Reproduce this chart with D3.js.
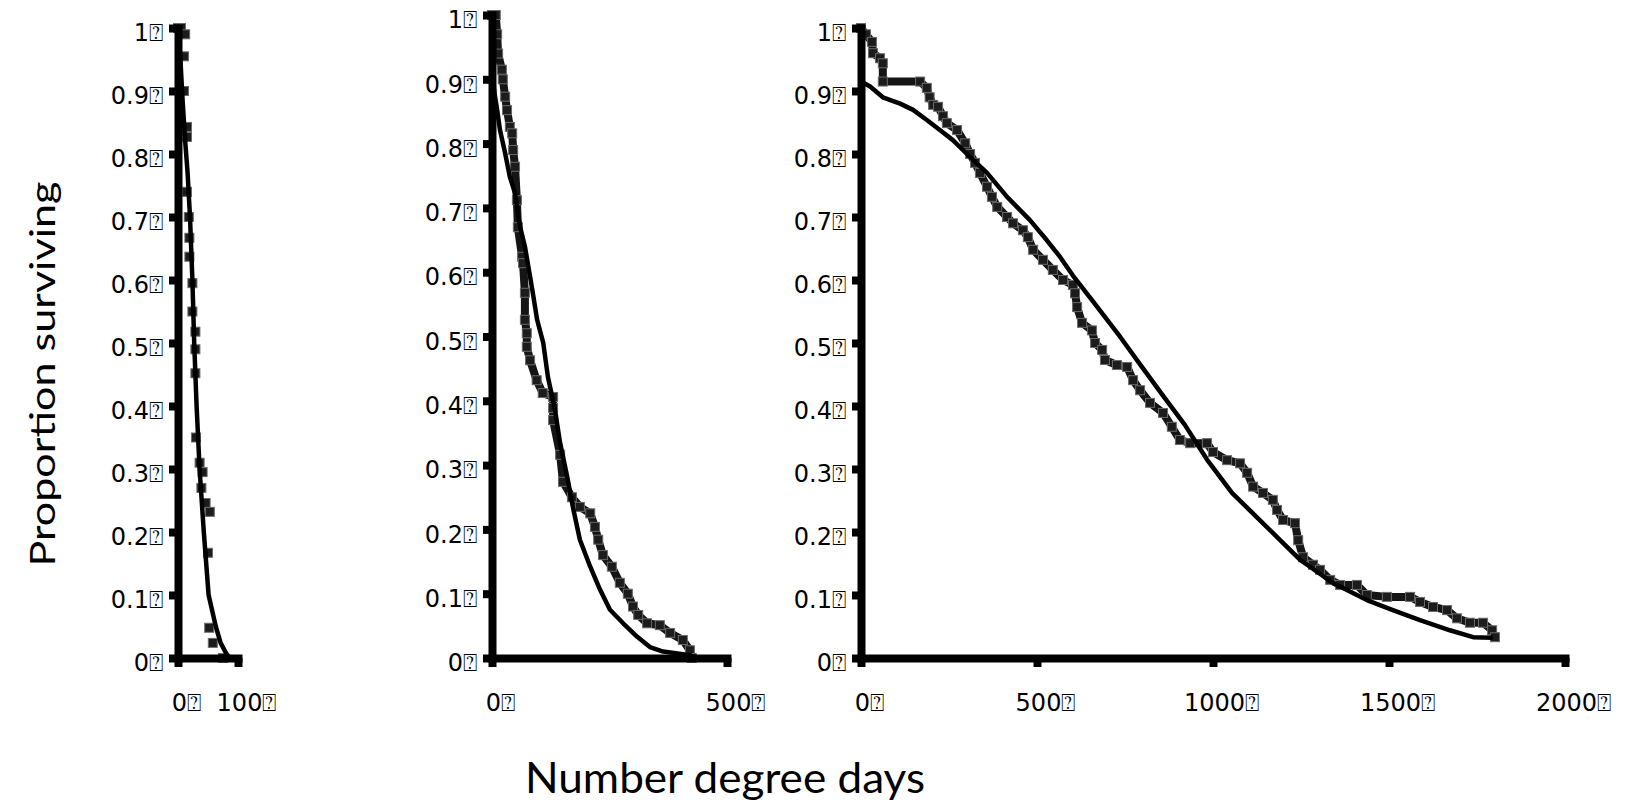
<!DOCTYPE html>
<html>
<head>
<meta charset="utf-8">
<script src="https://cdnjs.cloudflare.com/ajax/libs/d3/7.8.5/d3.min.js"></script>
<style>
    body { margin: 0; background: #fff; }
</style>
</head>
<body>
<svg id="chart"></svg>
<script>
    var w = 1628;
    var h = 805;
    var BOX = "\u2370";   // the boxed "?" that follows every tick label in the original

    // tick labels
    var yTicks = [0, 0.1, 0.2, 0.3, 0.4, 0.5, 0.6, 0.7, 0.8, 0.9, 1];
    var xTicks1 = [0, 100];
    var xTicks2 = [0, 500];
    var xTicks3 = [0, 500, 1000, 1500, 2000];

    // panel 1: observed [degree days, proportion] and fitted curve
    var obs1 = [[0, 1.0], [5, 1.0], [12, 0.99], [10, 0.955], [10, 0.90], [15, 0.843], [15, 0.827],
        [15, 0.74], [18, 0.70], [19, 0.667], [19, 0.637], [24, 0.595], [24, 0.55], [29, 0.518],
        [29, 0.49], [29, 0.452], [30, 0.35], [36, 0.31], [41, 0.295], [39, 0.27], [46, 0.246],
        [53, 0.232], [50, 0.167], [52, 0.048], [58, 0.024], [75, 0.0]];
    var fit1 = [[0, 1.0], [4, 0.95], [8, 0.88], [12, 0.82], [16, 0.77], [20, 0.70], [22, 0.65],
        [24, 0.6], [27, 0.5], [31, 0.4], [36, 0.3], [43, 0.2], [51, 0.1], [63, 0.05],
        [71, 0.024], [80, 0.008], [86, 0]];

    // panel 2
    var obs2 = [[0, 1.0], [8, 1.0], [11, 0.97], [13, 0.94], [21, 0.915], [23, 0.9], [28, 0.873],
        [32, 0.852], [38, 0.826], [43, 0.816], [45, 0.79], [49, 0.764], [53, 0.712], [55, 0.67],
        [64, 0.624], [66, 0.614], [70, 0.568], [70, 0.526], [74, 0.505], [74, 0.484], [81, 0.463],
        [95, 0.432], [108, 0.412], [130, 0.406], [130, 0.389], [130, 0.37], [145, 0.316],
        [151, 0.274], [170, 0.25], [187, 0.235], [209, 0.225], [219, 0.204], [226, 0.184],
        [236, 0.16], [255, 0.142], [272, 0.117], [289, 0.10], [300, 0.08], [311, 0.067],
        [330, 0.054], [357, 0.051], [379, 0.039], [406, 0.028], [421, 0.012], [425, 0.0]];
    var fit2 = [[0, 0.92], [5, 0.88], [11, 0.852], [17, 0.821], [28, 0.785], [38, 0.748],
        [49, 0.723], [60, 0.67], [70, 0.64], [81, 0.593], [87, 0.567], [96, 0.526], [109, 0.49],
        [119, 0.437], [134, 0.386], [145, 0.334], [160, 0.282], [172, 0.235], [187, 0.184],
        [209, 0.142], [230, 0.106], [251, 0.075], [279, 0.054], [309, 0.033], [336, 0.017],
        [364, 0.01], [406, 0.006], [425, 0.004]];

    // panel 3
    var obs3 = [[0, 1.0], [14, 0.99], [31, 0.978], [34, 0.96], [54, 0.952], [62, 0.944],
        [62, 0.915], [168, 0.915], [187, 0.905], [195, 0.89], [205, 0.878], [219, 0.875],
        [233, 0.86], [244, 0.849], [273, 0.838], [296, 0.817], [310, 0.80], [324, 0.786],
        [338, 0.77], [358, 0.748], [372, 0.732], [387, 0.716], [415, 0.70], [432, 0.69],
        [460, 0.679], [474, 0.668], [489, 0.648], [517, 0.632], [545, 0.616], [574, 0.60],
        [602, 0.592], [608, 0.579], [614, 0.557], [628, 0.532], [656, 0.52], [665, 0.50],
        [685, 0.489], [693, 0.473], [727, 0.465], [756, 0.462], [773, 0.441], [793, 0.425],
        [821, 0.405], [858, 0.389], [883, 0.367], [906, 0.346], [935, 0.341], [983, 0.341],
        [1000, 0.327], [1040, 0.314], [1077, 0.309], [1097, 0.294], [1114, 0.272], [1142, 0.262],
        [1170, 0.251], [1182, 0.235], [1199, 0.219], [1233, 0.214], [1242, 0.187], [1256, 0.16],
        [1284, 0.148], [1304, 0.14], [1333, 0.124], [1361, 0.116], [1409, 0.116], [1437, 0.10],
        [1494, 0.097], [1560, 0.097], [1588, 0.089], [1625, 0.081], [1665, 0.076], [1693, 0.063],
        [1730, 0.056], [1767, 0.056], [1793, 0.044], [1801, 0.033]];
    var fit3 = [[0, 0.915], [26, 0.907], [62, 0.89], [111, 0.88], [148, 0.87], [187, 0.854],
        [224, 0.838], [261, 0.822], [301, 0.80], [358, 0.77], [415, 0.732], [480, 0.695],
        [528, 0.663], [565, 0.637], [602, 0.607], [659, 0.566], [736, 0.51], [798, 0.462],
        [860, 0.415], [920, 0.37], [983, 0.315], [1054, 0.262], [1182, 0.192], [1247, 0.156],
        [1341, 0.119], [1437, 0.092], [1511, 0.076], [1588, 0.06], [1673, 0.044], [1739, 0.033],
        [1795, 0.032]];

    var panels = [
        { obs: obs1, fit: fit1, xMax: 100, xTicks: xTicks1, left: 178, right: 238, top: 28, band: false },
        { obs: obs2, fit: fit2, xMax: 500, xTicks: xTicks2, left: 492, right: 727, top: 15, band: true },
        { obs: obs3, fit: fit3, xMax: 2000, xTicks: xTicks3, left: 861, right: 1565, top: 28, band: true }
    ];
    var bottom = 658;

    var svg = d3.select("#chart")
        .attr("width", w)
        .attr("height", h)
        .style("background", "#fff");

    var fmt = d3.format("~g");

    panels.forEach(function (p) {
        var x = d3.scaleLinear().domain([0, p.xMax]).range([p.left, p.right]);
        var y = d3.scaleLinear().domain([0, 1]).range([bottom, p.top]);
        var g = svg.append("g");

        var line = d3.line()
            .x(function (d) { return x(d[0]); })
            .y(function (d) { return y(d[1]); });

        // observed: dense square markers, joined into a band where they overlap
        if (p.band) {
            g.append("path")
                .attr("d", line(p.obs))
                .attr("fill", "none")
                .attr("stroke", "#151515")
                .attr("stroke-width", 8)
                .attr("stroke-linejoin", "round");
        }
        g.selectAll("rect.obs")
            .data(p.obs)
            .enter()
            .append("rect")
            .attr("class", "obs")
            .attr("x", function (d) { return x(d[0]) - 4.5; })
            .attr("y", function (d) { return y(d[1]) - 4.5; })
            .attr("width", 9)
            .attr("height", 9)
            .attr("fill", "#1c1c1c")
            .attr("stroke", "#6a6a6a")
            .attr("stroke-width", 1);

        // fitted curve
        g.append("path")
            .attr("d", line(p.fit))
            .attr("fill", "none")
            .attr("stroke", "#000")
            .attr("stroke-width", 4.5)
            .attr("stroke-linejoin", "round");

        // y axis
        var ya = g.append("g")
            .attr("transform", "translate(" + p.left + ",0)")
            .call(d3.axisLeft(y)
                .tickValues(yTicks)
                .tickSize(9)
                .tickSizeOuter(0)
                .tickPadding(6)
                .tickFormat(function (d) { return fmt(d) + BOX; }));

        // x axis
        var xa = g.append("g")
            .attr("transform", "translate(0," + bottom + ")")
            .call(d3.axisBottom(x)
                .tickValues(p.xTicks)
                .tickSize(9)
                .tickSizeOuter(0)
                .tickPadding(27)
                .tickFormat(function (d) { return fmt(d) + BOX; }));

        [ya, xa].forEach(function (a) {
            a.select(".domain")
                .attr("stroke", "#000")
                .attr("stroke-width", 8)
                .attr("stroke-linecap", "square");
            a.selectAll(".tick line")
                .attr("stroke", "#000")
                .attr("stroke-width", 8);
            a.selectAll(".tick text")
                .attr("fill", "#000")
                .attr("font-family", "DejaVu Sans")
                .attr("font-size", "24px");
        });
        ya.selectAll(".tick text").attr("dy", "0.53em");
        xa.selectAll(".tick text").attr("dx", 8);
    });

    // axis titles
    svg.append("text")
        .text("Proportion surviving")
        .attr("transform", "translate(55,374) rotate(-90)")
        .attr("text-anchor", "middle")
        .attr("font-family", "Lato")
        .attr("font-size", "34px")
        .attr("textLength", 385)
        .attr("lengthAdjust", "spacingAndGlyphs")
        .attr("fill", "#000");

    svg.append("text")
        .text("Number degree days")
        .attr("x", 725)
        .attr("y", 793)
        .attr("text-anchor", "middle")
        .attr("font-family", "Lato")
        .attr("font-size", "43px")
        .attr("textLength", 400)
        .attr("lengthAdjust", "spacingAndGlyphs")
        .attr("fill", "#000");
</script>
</body>
</html>
